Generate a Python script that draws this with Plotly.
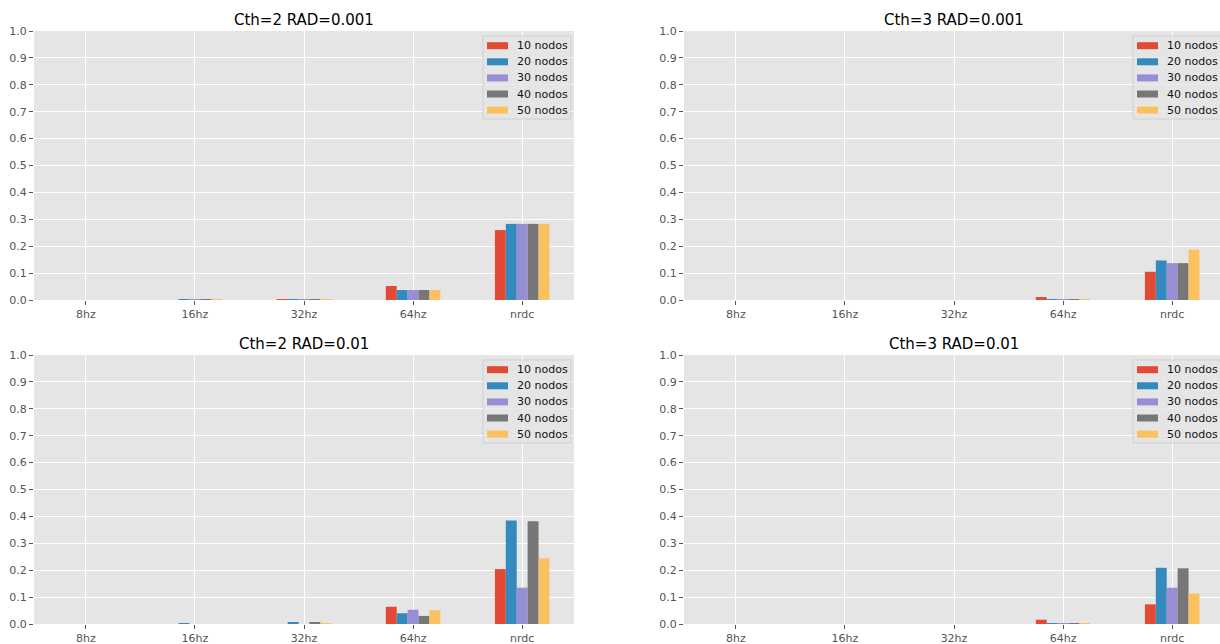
import plotly.graph_objects as go

# Categories on the x axis and the node-count series
frequencies = ["8hz", "16hz", "32hz", "64hz", "nrdc"]
series_names = ["10 nodos", "20 nodos", "30 nodos", "40 nodos", "50 nodos"]
series_colors = ["#E24A33", "#348ABD", "#988ED5", "#777777", "#FBC15E"]

# One row per node count, one column per frequency
cth2_rad0001 = [
    [0.0, 0.0, 0.002, 0.052, 0.260],
    [0.0, 0.002, 0.002, 0.037, 0.283],
    [0.0, 0.002, 0.002, 0.037, 0.283],
    [0.0, 0.002, 0.002, 0.037, 0.283],
    [0.0, 0.002, 0.002, 0.037, 0.283],
]
cth3_rad0001 = [
    [0.0, 0.0, 0.0, 0.011, 0.105],
    [0.0, 0.0, 0.0, 0.002, 0.147],
    [0.0, 0.0, 0.0, 0.002, 0.137],
    [0.0, 0.0, 0.0, 0.002, 0.137],
    [0.0, 0.0, 0.0, 0.002, 0.187],
]
cth2_rad001 = [
    [0.0, 0.0, 0.0, 0.064, 0.204],
    [0.0, 0.003, 0.007, 0.040, 0.385],
    [0.0, 0.0, 0.0, 0.053, 0.135],
    [0.0, 0.0, 0.007, 0.030, 0.382],
    [0.0, 0.0, 0.002, 0.051, 0.244],
]
cth3_rad001 = [
    [0.0, 0.0, 0.0, 0.016, 0.073],
    [0.0, 0.0, 0.0, 0.003, 0.209],
    [0.0, 0.0, 0.0, 0.003, 0.135],
    [0.0, 0.0, 0.0, 0.003, 0.207],
    [0.0, 0.0, 0.0, 0.002, 0.113],
]

panel_titles = ["Cth=2 RAD=0.001", "Cth=3 RAD=0.001", "Cth=2 RAD=0.01", "Cth=3 RAD=0.01"]
y_ticks = [round(0.1 * i, 1) for i in range(11)]

# Page geometry (pixels)
W, H = 1220, 644
ML, MR, MT, MB = 34, 0, 31, 20
PW, PH = W - ML - MR, H - MT - MB


def px_x(px):
    return (px - ML) / PW


def px_y(py):
    return (H - MB - py) / PH


# Axes pixel boxes: (left, right_full, top, bottom); right panels run past the page edge
panels = [
    (34, 574, 31, 300),
    (684, 1224, 31, 300),
    (34, 574, 355, 624),
    (684, 1224, 355, 624),
]
panel_data = [cth2_rad0001, cth3_rad0001, cth2_rad001, cth3_rad001]

FONT = "DejaVu Sans"
fig = go.Figure()
layout = dict(
    width=W, height=H,
    margin=dict(l=ML, r=MR, t=MT, b=MB),
    paper_bgcolor="white",
    plot_bgcolor="#E5E5E5",
    barmode="group",
    bargap=0.5,
    bargroupgap=0.0,
    showlegend=False,
    font=dict(family=FONT, size=11, color="#555555"),
)

shapes = []
annotations = []
full_range = [-0.475, 4.475]
unit_px = (574 - 34) / (full_range[1] - full_range[0])

for k, (data, title, box) in enumerate(zip(panel_data, panel_titles, panels)):
    left, right_full, top, bottom = box
    right_vis = min(right_full, W)
    xr_end = full_range[1] - (right_full - right_vis) / unit_px
    sfx = "" if k == 0 else str(k + 1)
    for name, color, vals in zip(series_names, series_colors, data):
        fig.add_trace(go.Bar(
            x=frequencies, y=vals, name=name,
            marker=dict(color=color, line=dict(width=0)),
            xaxis="x" + sfx, yaxis="y" + sfx,
            offsetgroup=name,
        ))
    layout["xaxis" + sfx] = dict(
        domain=[px_x(left), px_x(right_vis)],
        anchor="y" + sfx,
        type="category",
        range=[full_range[0], xr_end],
        showgrid=True, gridcolor="white", gridwidth=1,
        ticks="outside", ticklen=4, tickcolor="#555555", tickwidth=1,
        showline=False, zeroline=False, automargin=False,
        tickfont=dict(family=FONT, size=11, color="#555555"),
    )
    layout["yaxis" + sfx] = dict(
        domain=[px_y(bottom), px_y(top)],
        anchor="x" + sfx,
        range=[0, 1.0],
        tickvals=y_ticks,
        tickformat=".1f",
        showgrid=True, gridcolor="white", gridwidth=1,
        ticks="outside", ticklen=4, tickcolor="#555555", tickwidth=1,
        showline=False, zeroline=False, automargin=False,
        tickfont=dict(family=FONT, size=11, color="#555555"),
    )

    # Panel title
    annotations.append(dict(
        x=px_x((left + right_full) / 2), y=px_y(top - 11),
        xref="paper", yref="paper", xanchor="center", yanchor="middle",
        text=title, showarrow=False,
        font=dict(family=FONT, size=15, color="black"),
    ))

    # Legend box in the upper-right corner of the axes
    shapes.append(dict(
        type="rect", xref="paper", yref="paper",
        x0=px_x(right_full - 91), x1=px_x(right_full - 3),
        y0=px_y(top + 5), y1=px_y(top + 88),
        fillcolor="rgba(229,229,229,0.8)",
        line=dict(color="rgba(204,204,204,0.8)", width=1),
        layer="above",
    ))
    for i, (name, color) in enumerate(zip(series_names, series_colors)):
        cy = top + 14.7 + i * 16.1
        shapes.append(dict(
            type="rect", xref="paper", yref="paper",
            x0=px_x(right_full - 87), x1=px_x(right_full - 66),
            y0=px_y(cy + 3.5), y1=px_y(cy - 3.5),
            fillcolor=color, line=dict(width=0), layer="above",
        ))
        annotations.append(dict(
            x=px_x(right_full - 59.5), y=px_y(cy),
            xref="paper", yref="paper", xanchor="left", yanchor="middle",
            text=name, showarrow=False,
            font=dict(family=FONT, size=11, color="#111111"),
        ))

layout["shapes"] = shapes
layout["annotations"] = annotations
fig.update_layout(**layout)
fig.write_html("out.html")
